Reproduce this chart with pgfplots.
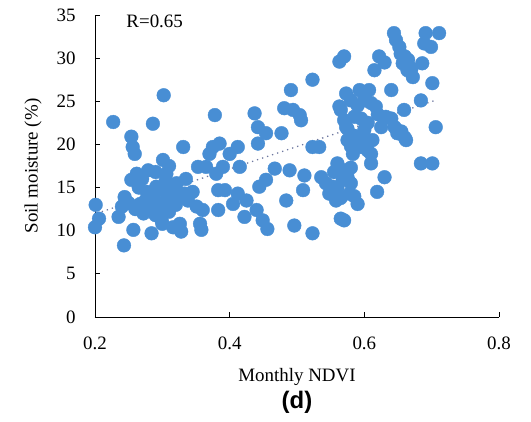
\documentclass[border=0pt]{standalone}
\usepackage{pgfplots}
\pgfplotsset{compat=1.18}
\usepackage{fontspec}
\setmainfont{Liberation Serif}
\newfontfamily\arialfont{Liberation Sans}
\usetikzlibrary{calc}
\definecolor{dotblue}{RGB}{72,142,212}
\definecolor{trendc}{RGB}{110,120,160}

\begin{document}
\begin{tikzpicture}
\begin{axis}[
  name=ax,
  scale only axis,
  width=404bp, height=302bp,
  xmin=0.2, xmax=0.8, ymin=0, ymax=35,
  xtick={0.2,0.4,0.6,0.8},
  ytick={0,5,10,15,20,25,30,35},
  axis lines*=left,
  axis line style={line width=0.8pt},
  tick align=inside,
  major tick length=5bp,
  tick style={line width=0.8pt, black},
  /pgf/number format/assume math mode=true,
  /pgf/number format/fixed,
  tick label style={font=\fontsize{19}{22}\selectfont},
  yticklabel style={xshift=-16bp},
  xticklabel style={yshift=-16bp},
  xlabel={Monthly NDVI},
  ylabel={Soil moisture (\%)},
  label style={font=\fontsize{19}{22}\selectfont},
  xlabel style={at={(axis description cs:0.5,-0.199)}, anchor=center},
  ylabel style={at={(axis description cs:-0.153,0.5)}, anchor=center},
  clip=false,
]
% trend line
\addplot[trendc, line width=1.3pt, dash pattern=on 1.3pt off 4pt] coordinates {(0.21,12.2) (0.705,25.1)};

\addplot[only marks, mark=*, mark size=6.9pt, mark options={fill=dotblue, draw=dotblue}] table {
x y
0.201 13.0
0.200 10.4
0.206 11.4
0.227 22.6
0.243 8.3
0.235 11.6
0.240 12.8
0.244 13.9
0.254 20.9
0.256 19.7
0.259 18.9
0.257 10.1
0.254 15.9
0.262 16.6
0.267 13.1
0.272 12.0
0.277 14.5
0.279 17.0
0.284 9.7
0.286 22.4
0.289 13.5
0.291 15.1
0.296 12.4
0.299 11.2
0.301 18.2
0.302 25.7
0.306 16.6
0.306 14.3
0.311 13.5
0.316 10.4
0.321 15.5
0.326 10.8
0.328 9.9
0.331 19.7
0.333 14.3
0.338 13.5
0.351 12.8
0.356 10.8
0.358 10.1
0.353 17.4
0.360 12.4
0.365 17.4
0.370 18.9
0.375 19.7
0.378 23.4
0.380 16.6
0.383 12.4
0.383 14.7
0.385 20.1
0.390 17.4
0.393 14.7
0.400 18.9
0.405 13.1
0.412 19.7
0.415 17.4
0.412 14.3
0.422 11.6
0.425 13.5
0.437 23.6
0.442 20.1
0.442 22.0
0.440 12.4
0.444 15.1
0.454 15.9
0.454 21.3
0.449 11.2
0.456 10.2
0.467 17.2
0.477 21.3
0.481 24.2
0.484 13.5
0.489 17.0
0.491 26.3
0.494 24.0
0.496 10.6
0.504 23.4
0.506 22.8
0.509 14.7
0.511 16.4
0.523 9.7
0.523 19.7
0.523 27.5
0.533 19.7
0.536 16.2
0.543 15.5
0.548 14.3
0.553 15.1
0.558 13.5
0.560 17.8
0.563 24.4
0.563 29.6
0.565 11.4
0.568 15.9
0.570 30.2
0.570 11.2
0.573 25.9
0.573 22.0
0.575 20.5
0.578 14.3
0.580 25.1
0.583 18.9
0.585 23.2
0.590 13.1
0.590 20.5
0.593 26.3
0.595 19.7
0.600 21.7
0.602 25.1
0.607 26.3
0.610 18.9
0.610 17.8
0.612 20.5
0.615 28.6
0.617 24.4
0.619 14.5
0.622 30.2
0.625 22.0
0.630 16.2
0.632 23.2
0.640 26.3
0.644 32.9
0.647 32.1
0.649 21.3
0.652 31.3
0.654 30.5
0.657 29.4
0.659 24.0
0.662 20.5
0.664 28.6
0.672 27.8
0.684 25.1
0.686 29.4
0.684 17.8
0.689 31.7
0.691 32.9
0.699 31.3
0.701 17.8
0.701 27.1
0.706 22.0
0.711 32.9
0.265 15.0
0.275 13.5
0.285 14.0
0.290 16.8
0.295 14.8
0.300 13.0
0.305 15.8
0.310 12.2
0.315 14.8
0.320 13.0
0.325 14.0
0.270 16.0
0.280 12.8
0.290 11.8
0.300 10.8
0.260 12.5
0.250 13.2
0.335 16.0
0.345 14.5
0.310 17.5
0.565 24.0
0.570 22.8
0.575 21.8
0.580 19.8
0.585 21.0
0.590 24.5
0.595 23.0
0.600 20.3
0.605 19.3
0.600 25.5
0.605 22.5
0.610 24.8
0.570 17.0
0.575 16.2
0.580 15.5
0.560 15.0
0.555 16.8
0.565 13.8
0.585 14.0
0.580 17.3
0.620 23.5
0.640 23.0
0.645 22.0
0.655 21.5
0.660 20.8
0.665 29.8
0.660 30.2
0.670 28.8
0.630 29.5
};

\node[anchor=west, font=\fontsize{19}{22}\selectfont] at (axis cs:0.2415,34.3) {R=0.65};
\node[anchor=center, font=\arialfont\bfseries\fontsize{24}{28}\selectfont] at (axis description cs:0.5,-0.281) {(d)};
\end{axis}
\pgfresetboundingbox
\path ($(ax.south west)+(-95bp,-105bp)$) rectangle ($(ax.south west)+(436bp,317bp)$);
\end{tikzpicture}
\end{document}
